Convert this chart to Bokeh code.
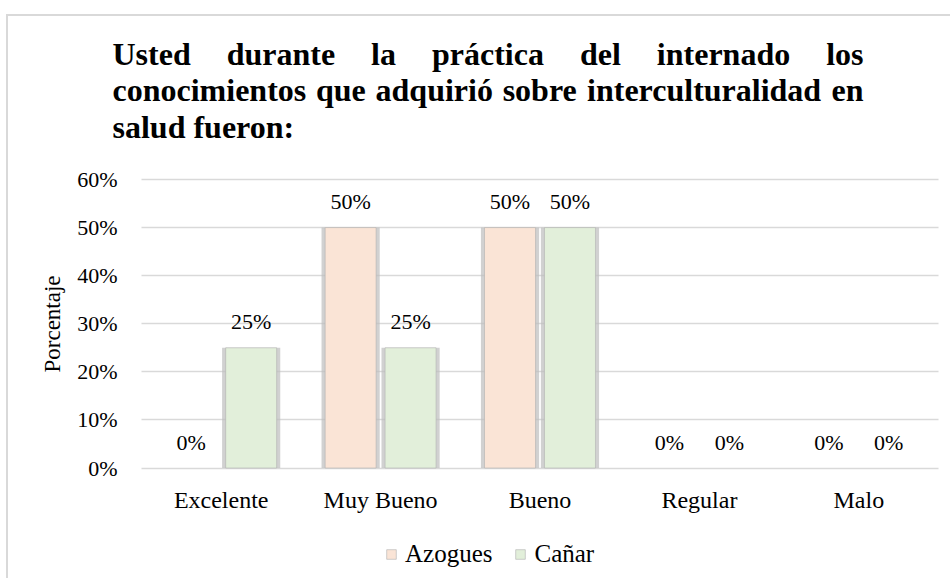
from bokeh.plotting import figure
from bokeh.models import (ColumnDataSource, Range1d, NumeralTickFormatter, FixedTicker,
                          Legend, LegendItem, LinearAxis, Grid)
from bokeh.core.properties import value
from bokeh.embed import file_html
from bokeh.resources import INLINE

# ---------------- data ----------------
categories = ["Excelente", "Muy Bueno", "Bueno", "Regular", "Malo"]
azogues = [0.00, 0.50, 0.50, 0.00, 0.00]
canar = [0.25, 0.25, 0.50, 0.00, 0.00]
series_names = ["Azogues", "Cañar"]
y_ticks = [0.0, 0.1, 0.2, 0.3, 0.4, 0.5, 0.6]
title_lines = [
    "Usted durante la práctica del internado los",
    "conocimientos que adquirió sobre interculturalidad en",
    "salud fueron:",
]
y_axis_title = "Porcentaje"

# ---------------- layout (page pixels) ----------------
FONT = "Liberation Serif"
COLORS = ["#FAE4D6", "#E2EFDA"]
OFFS = [-0.188, 0.188]
BAR_W = 0.32
PX_L, PX_R, PY_T, PY_B = 8, 952, 16, 580           # canvas in page px
PLOT_L, PLOT_R, PLOT_B, PLOT_T = 141, 938, 467.5, 179  # plot area in page px
n = len(categories)
ymax = y_ticks[-1]
ux = (PLOT_R - PLOT_L) / n
uy = (PLOT_B - PLOT_T) / ymax

x_rng = Range1d((PX_L - PLOT_L) / ux, (PX_R - PLOT_L) / ux)
y_rng = Range1d((PLOT_B - PY_B) / uy, (PLOT_B - PY_T) / uy)

p = figure(width=PX_R - PX_L, height=PY_B - PY_T, x_range=x_rng, y_range=y_rng,
           output_backend="svg", toolbar_location=None, min_border=0,
           x_axis_location=None, y_axis_location=None)
p.margin = (PY_T - 2, 0, 0, PX_L - 2)
p.styles = {"border-top": "2px solid #d9d9d9", "border-left": "2px solid #d9d9d9"}
p.outline_line_color = None
p.grid.visible = False
p.extra_x_ranges = {"px": Range1d(PX_L, PX_R)}
p.extra_y_ranges = {"py": Range1d(PY_B, PY_T)}

# axes
cat_pos = [i + 0.5 for i in range(n)]
yaxis = LinearAxis(fixed_location=0, bounds=(0, ymax), ticker=FixedTicker(ticks=y_ticks),
                   formatter=NumeralTickFormatter(format="0%"))
xaxis = LinearAxis(fixed_location=0, bounds=(0, n), ticker=FixedTicker(ticks=cat_pos),
                   major_label_overrides={pos: c for pos, c in zip(cat_pos, categories)})
for ax in (xaxis, yaxis):
    ax.axis_line_color = None
    ax.major_tick_line_color = None
    ax.minor_tick_line_color = None
    ax.major_tick_out = 0
    ax.major_tick_in = 0
    ax.major_label_text_font = FONT
    ax.major_label_text_color = "black"
yaxis.major_label_text_font_size = "22px"
yaxis.major_label_standoff = 24
xaxis.major_label_text_font_size = "24px"
xaxis.major_label_standoff = 19
yaxis.axis_label = y_axis_title
yaxis.axis_label_text_font = FONT
yaxis.axis_label_text_font_style = "normal"
yaxis.axis_label_text_font_size = "23px"
yaxis.axis_label_text_color = "black"
yaxis.axis_label_standoff = 9
p.add_layout(yaxis, "left")
p.add_layout(xaxis, "below")

grid = Grid(dimension=1, ticker=FixedTicker(ticks=y_ticks), bounds=(0, ymax),
            cross_bounds=(0, n), grid_line_color="#d9d9d9", grid_line_width=1.5)
p.add_layout(grid)

# bars and labels
main_renderers = []
for vals, color, off in zip([azogues, canar], COLORS, OFFS):
    bar_src = ColumnDataSource(dict(
        x=[pos + off for pos, v in zip(cat_pos, vals) if v > 0],
        v=[v for v in vals if v > 0]))
    lbl_src = ColumnDataSource(dict(
        x=[pos + off for pos in cat_pos], v=vals,
        lbl=[f"{round(v * 100)}%" for v in vals]))
    p.vbar(x="x", top="v", width=BAR_W + 0.045, source=bar_src,
           fill_color="#bdbdbd", fill_alpha=0.7, line_color=None)
    r = p.vbar(x="x", top="v", width=BAR_W, source=bar_src,
               fill_color=color, line_color="#b0b0b0", line_width=1, line_alpha=0.6)
    main_renderers.append(r)
    p.text(x="x", y="v", text="lbl", source=lbl_src,
           text_align="center", text_baseline="alphabetic", y_offset=-26,
           text_font=value(FONT), text_font_size="22px", text_color="black")

legend = Legend(items=[LegendItem(label=nm, renderers=[r])
                       for nm, r in zip(series_names, main_renderers)],
                location=(385 - PX_L, 12), orientation="horizontal",
                glyph_width=12, glyph_height=12, label_standoff=8, spacing=22,
                padding=0, margin=0, border_line_color=None,
                background_fill_alpha=0,
                label_text_font=FONT, label_text_font_size="25px",
                label_text_color="black")
p.add_layout(legend)

# ---------------- title (justified, Times-like bold) ----------------
CW = {"U": 722, "s": 389, "t": 333, "e": 444, "d": 556, "u": 556, "r": 444, "a": 500,
      "n": 556, "l": 278, "p": 556, "á": 500, "c": 444, "i": 278, "o": 500, "m": 833,
      "q": 556, "ó": 500, "b": 556, "f": 333, ":": 333}
TSIZE = 32
T_LEFT, T_RIGHT = 112, 863
T_BASES = [53, 89, 126]

lx, ly, lt, rx, ry, rt = [], [], [], [], [], []
for i, line in enumerate(title_lines):
    words = line.split()
    if i == len(title_lines) - 1:
        lx.append(T_LEFT); ly.append(T_BASES[i]); lt.append(line)
        continue
    widths = [sum(CW.get(ch, 500) for ch in w) * TSIZE / 1000 for w in words]
    gap = (T_RIGHT - T_LEFT - sum(widths)) / (len(words) - 1)
    x = T_LEFT
    for j, (w, wd) in enumerate(zip(words, widths)):
        if j == len(words) - 1:
            rx.append(T_RIGHT); ry.append(T_BASES[i]); rt.append(w)
        else:
            lx.append(x); ly.append(T_BASES[i]); lt.append(w)
        x += wd + gap

common = dict(text_baseline="alphabetic", text_font=value(FONT), text_font_style="bold",
              text_font_size=f"{TSIZE}px", text_color="black",
              x_range_name="px", y_range_name="py")
p.text(x=lx, y=ly, text=lt, text_align="left", **common)
p.text(x=rx, y=ry, text=rt, text_align="right", **common)

open("out.html", "w").write(file_html(p, INLINE))
